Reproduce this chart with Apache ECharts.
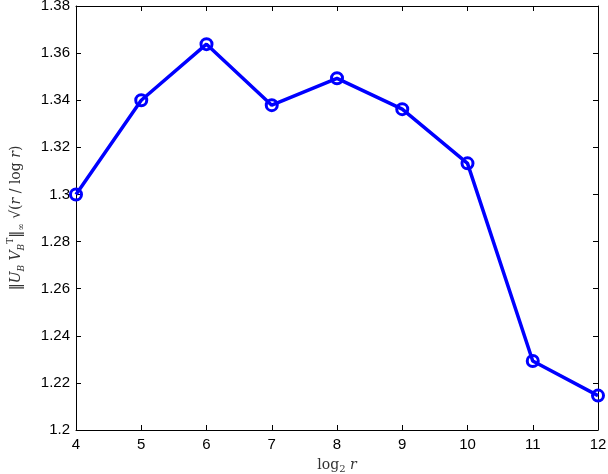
<html>
<head>
    <meta charset="utf-8" />
    <title>Norm vs log2 r</title>
    <script src="https://cdn.jsdelivr.net/npm/echarts@6/dist/echarts.min.js"></script>
    <style>
        body { margin: 0; background: #fff; }
        #chart { width: 608px; height: 474px; }
    </style>
</head>
<body>
    <div id="chart"></div>
    <script type="text/javascript">
        // values
        var log2r = [4, 5, 6, 7, 8, 9, 10, 11, 12];
        var normValues = [1.300, 1.340, 1.3638, 1.3379, 1.3493, 1.3362, 1.3132, 1.2293, 1.2146];
        var yTicks = { min: 1.2, max: 1.38, step: 0.02 };
        var xTicks = { min: 4, max: 12, step: 1 };

        var pts = log2r.map(function (x, i) { return [x, normValues[i]]; });

        var chart = echarts.init(document.getElementById('chart'));
        var tickFont = 'Liberation Sans, Arial, sans-serif';
        var mathFont = 'DejaVu Serif, Liberation Serif, serif';

        var frameAxis = {
            axisLine: { show: true, lineStyle: { color: '#000', width: 1 } },
            axisTick: { show: true, inside: true, length: 5, lineStyle: { color: '#000' } },
            splitLine: { show: false }
        };

        function yFmt(v) { return parseFloat(v.toFixed(2)).toString(); }

        var option = {
            animation: false,
            grid: { left: 76, right: 10, top: 6, bottom: 44, containLabel: false, outerBoundsMode: 'none' },
            xAxis: [
                Object.assign({
                    type: 'value', min: xTicks.min, max: xTicks.max, interval: xTicks.step,
                    position: 'bottom',
                    axisLabel: { color: '#000', fontFamily: tickFont, fontSize: 15, margin: 7 },
                    name: '{n|log}{s|2}{i| r}',
                    nameLocation: 'middle', nameGap: 26,
                    nameTextStyle: {
                        rich: {
                            n: { fontFamily: mathFont, fontSize: 14, color: '#333', lineHeight: 18, verticalAlign: 'middle' },
                            s: { fontFamily: mathFont, fontSize: 10, color: '#333', verticalAlign: 'bottom', lineHeight: 18 },
                            i: { fontFamily: mathFont, fontStyle: 'italic', fontSize: 14, color: '#333', lineHeight: 18, verticalAlign: 'middle' }
                        }
                    }
                }, frameAxis),
                Object.assign({
                    type: 'value', min: xTicks.min, max: xTicks.max, interval: xTicks.step,
                    position: 'top', axisLabel: { show: false }
                }, frameAxis)
            ],
            yAxis: [
                Object.assign({
                    type: 'value', min: yTicks.min, max: yTicks.max, interval: yTicks.step,
                    position: 'left',
                    axisLabel: { color: '#000', fontFamily: tickFont, fontSize: 15, margin: 6, formatter: yFmt },
                    name: '{n|‖}{i|U}{s|B}{i| V}{s|B}{t|T}{n|‖}{s|∞}{n| √(}{i|r}{n| / log }{i|r}{n|)}',
                    nameLocation: 'middle', nameGap: 50, nameRotate: 90,
                    nameTextStyle: {
                        rich: {
                            n: { fontFamily: mathFont, fontSize: 14, color: '#333', lineHeight: 20, verticalAlign: 'middle' },
                            i: { fontFamily: mathFont, fontStyle: 'italic', fontSize: 14, color: '#333', lineHeight: 20, verticalAlign: 'middle' },
                            s: { fontFamily: mathFont, fontStyle: 'italic', fontSize: 9, color: '#333', lineHeight: 20, verticalAlign: 'bottom' },
                            t: { fontFamily: mathFont, fontSize: 9, color: '#333', lineHeight: 20, verticalAlign: 'top' }
                        }
                    }
                }, frameAxis),
                Object.assign({
                    type: 'value', min: yTicks.min, max: yTicks.max, interval: yTicks.step,
                    position: 'right', axisLabel: { show: false }
                }, frameAxis)
            ],
            series: [{
                type: 'line',
                data: pts,
                symbol: 'circle',
                symbolSize: 11,
                lineStyle: { color: '#0000ff', width: 3.5 },
                itemStyle: { color: 'rgba(255,255,255,0)', borderColor: '#0000ff', borderWidth: 3 },
                clip: false
            }]
        };
        chart.setOption(option);
    </script>
</body>
</html>
